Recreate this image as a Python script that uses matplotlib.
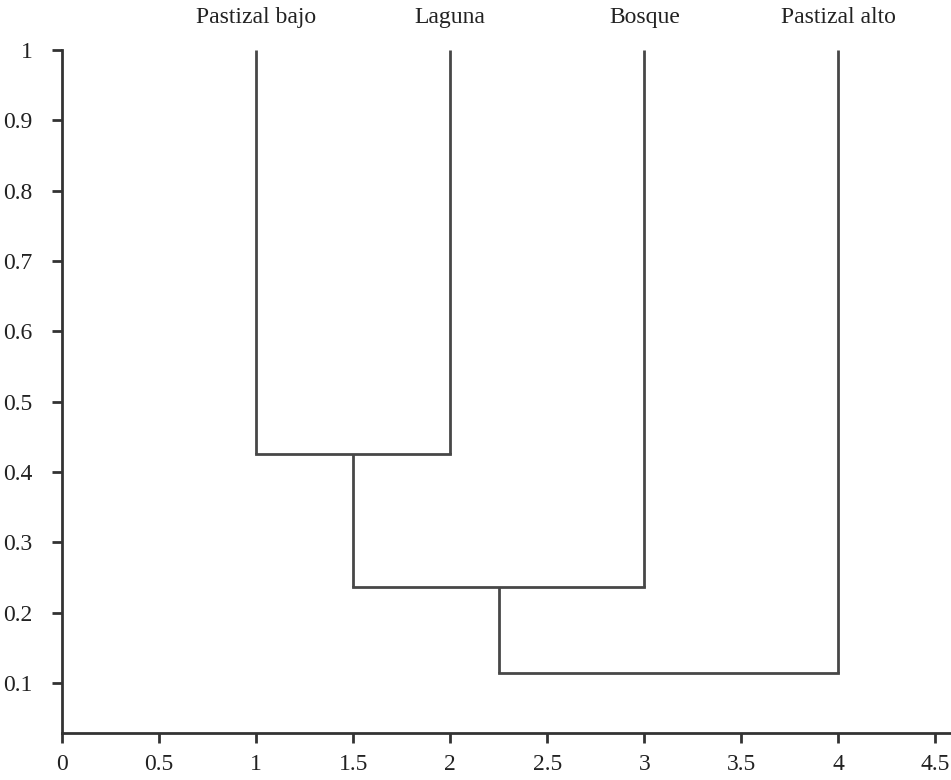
import matplotlib
matplotlib.use("Agg")
import matplotlib.pyplot as plt

# Data
leaf_names = ["Pastizal bajo", "Laguna", "Bosque", "Pastizal alto"]
leaf_positions = [1, 2, 3, 4]
leaf_top = 1.0
# merge heights, in order of merging
merge_heights = [0.425, 0.236, 0.115]
x_ticks = [0, 0.5, 1, 1.5, 2, 2.5, 3, 3.5, 4, 4.5]
x_tick_labels = ["0", "0.5", "1", "1.5", "2", "2.5", "3", "3.5", "4", "4.5"]
y_ticks = [0.1, 0.2, 0.3, 0.4, 0.5, 0.6, 0.7, 0.8, 0.9, 1]
y_tick_labels = ["0.1", "0.2", "0.3", "0.4", "0.5", "0.6", "0.7", "0.8", "0.9", "1"]

plt.rcParams['font.family'] = ['Liberation Serif', 'DejaVu Serif']

fig = plt.figure(figsize=(9.51, 7.80), dpi=100)
ax = fig.add_axes([62/951, 1 - 733/780, 1 - 62/951, (733 - 50)/780])

lc = "#474747"
lw = 2.0

cur_x = leaf_positions[0]
cur_top = leaf_top
for i, h in enumerate(merge_heights):
    right_x = leaf_positions[i + 1]
    ax.plot([cur_x, cur_x], [cur_top, h], color=lc, lw=lw, solid_capstyle='butt')
    ax.plot([right_x, right_x], [leaf_top, h], color=lc, lw=lw, solid_capstyle='butt')
    ax.plot([cur_x, right_x], [h, h], color=lc, lw=lw, solid_capstyle='projecting')
    cur_x = (cur_x + right_x) / 2
    cur_top = h

for name, xp in zip(leaf_names, leaf_positions):
    ax.annotate(name, xy=(xp, leaf_top), xytext=(0, 16), textcoords='offset points',
                ha='center', va='bottom', fontsize=17, color="#222222")

ax.set_xlim(0, 4.58)
ax.set_ylim(0.029, 1.0)
ax.set_xticks(x_ticks)
ax.set_xticklabels(x_tick_labels)
ax.set_yticks(y_ticks)
ax.set_yticklabels(y_tick_labels)
ax.spines['top'].set_visible(False)
ax.spines['right'].set_visible(False)
for s in ['left', 'bottom']:
    ax.spines[s].set_color("#333333")
    ax.spines[s].set_linewidth(2.0)
ax.tick_params(axis='both', direction='out', length=7, width=2, color="#333333",
               labelsize=17, labelcolor="#222222")
ax.tick_params(axis='y', pad=14)
ax.tick_params(axis='x', pad=8)

fig.savefig("out.png", dpi=100)
